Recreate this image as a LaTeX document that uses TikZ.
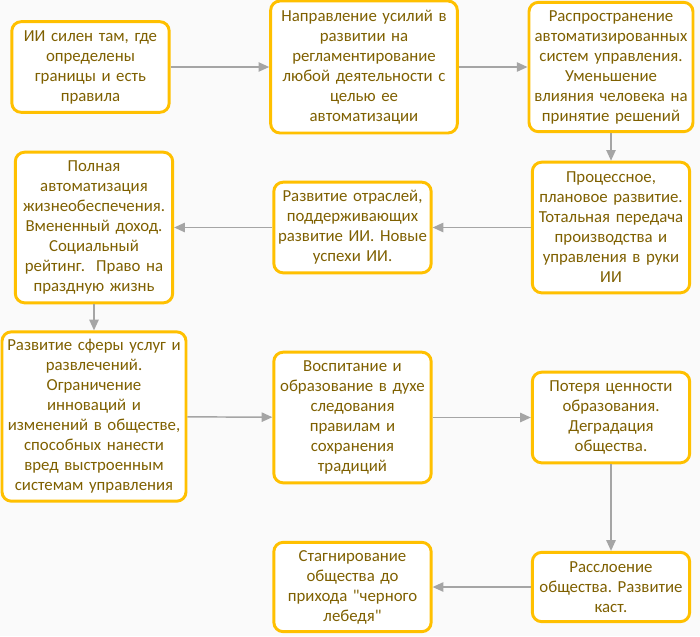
\documentclass[tikz,border=0pt]{standalone}
\usepackage{fontspec}
\setmainfont{Carlito}[Ligatures=TeXOff]
\usetikzlibrary{arrows.meta}
\definecolor{boxgold}{HTML}{FFC000}
\definecolor{textbrown}{HTML}{7F6000}
\definecolor{arrgray}{HTML}{A5A5A5}
\definecolor{bggray}{HTML}{FAFAFA}
\frenchspacing
\begin{document}
\begin{tikzpicture}[x=0.75pt,y=-0.75pt,
        stage/.style={draw=boxgold, line width=2.2pt, rounded corners=7pt, fill=white,
            text=textbrown, align=center, inner sep=2pt,
            font=\fontsize{12.6}{15}\selectfont},
        flow/.style={draw=arrgray, line width=1.1pt, -{Triangle[length=8pt,width=7pt]}}]
        \fill[bggray] (0,0) rectangle (700,636);
        \useasboundingbox (0,0) rectangle (700,636);

        % Первый ряд
        \node[stage, text width=114pt, minimum height=68pt] (rules) at (90.5,67)
            {ИИ силен там, где\\определены\\границы и есть\\правила};
        \node[stage, text width=136pt, minimum height=99pt] (effort) at (364,67)
            {Направление усилий в\\развитии на\\регламентирование\\любой деятельности с\\целью ее\\автоматизации};
        \node[stage, text width=119pt, minimum height=97pt] (spread) at (611,67)
            {Распространение\\автоматизированных\\систем управления.\\Уменьшение\\влияния человека на\\принятие решений};

        % Второй ряд
        \node[stage, text width=114pt, minimum height=98pt] (process) at (611,227.5)
            {Процессное,\\плановое развитие.\\Тотальная передача\\производства и\\управления в руки\\ИИ};
        \node[stage, text width=114pt, minimum height=68pt] (branches) at (352.5,227.5)
            {Развитие отраслей,\\поддерживающих\\развитие ИИ. Новые\\успехи ИИ.};
        \node[stage, text width=114pt, minimum height=113pt] (income) at (94,227.5)
            {Полная\\автоматизация\\жизнеобеспечения.\\Вмененный доход.\\Социальный\\рейтинг.\ \ Право на\\праздную жизнь};

        % Третий ряд
        \node[stage, text width=134pt, minimum height=127pt] (leisure) at (94,416.5)
            {Развитие сферы услуг и\\развлечений.\\Ограничение\\инноваций и\\изменений в обществе,\\способных нанести\\вред выстроенным\\системам управления};
        \node[stage, text width=114pt, minimum height=98pt] (upbring) at (352.5,417.5)
            {Воспитание и\\образование в духе\\следования\\правилам и\\сохранения\\традиций};
        \node[stage, text width=114pt, minimum height=68pt] (decline) at (611,417.5)
            {Потеря ценности\\образования.\\Деградация\\общества.};

        % Четвертый ряд
        \node[stage, text width=114pt, minimum height=52pt] (castes) at (611,587)
            {Расслоение\\общества. Развитие\\каст.};
        \node[stage, text width=114pt, minimum height=67pt] (swan) at (352.5,587)
            {Стагнирование\\общества до\\прихода "черного\\лебедя"};

        % Стрелки
        \draw[flow] (rules) -- (effort);
        \draw[flow] (effort) -- (spread);
        \draw[flow] (spread) -- (process);
        \draw[flow] (process) -- (branches);
        \draw[flow] (branches) -- (income);
        \draw[flow] (income) -- (leisure);
        \draw[flow] (leisure) -- (upbring);
        \draw[flow] (upbring) -- (decline);
        \draw[flow] (decline) -- (castes);
        \draw[flow] (castes) -- (swan);
    \end{tikzpicture}
\end{document}
